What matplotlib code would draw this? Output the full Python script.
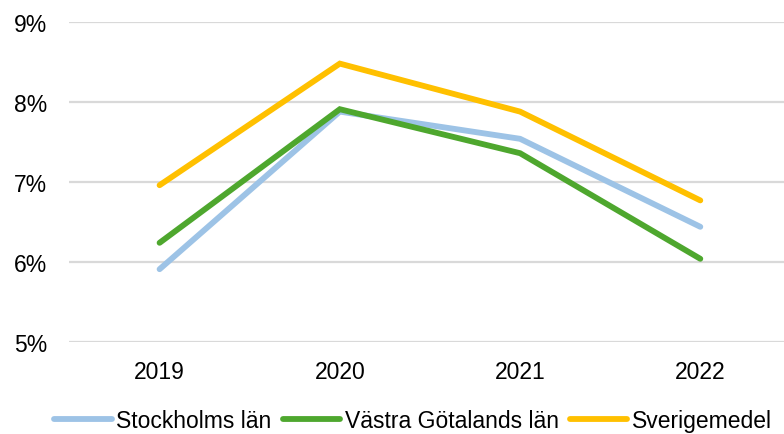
import matplotlib.pyplot as plt
from matplotlib.ticker import FuncFormatter

plt.rcParams['font.family'] = ['Liberation Sans', 'DejaVu Sans']

years = ["2019", "2020", "2021", "2022"]
stockholm = [5.91, 7.88, 7.54, 6.44]
vastra = [6.24, 7.91, 7.36, 6.04]
sverige = [6.96, 8.48, 7.88, 6.77]

series = [
    ("Stockholms län", stockholm, "#9DC3E6"),
    ("Västra Götalands län", vastra, "#4EA72E"),
    ("Sverigemedel", sverige, "#FFC000"),
]

fig = plt.figure(figsize=(7.84, 4.35), dpi=100)
ax = fig.add_axes([0.0886, 0.2115, 0.9196, 0.7356])

x = range(len(years))
for name, vals, col in series:
    ax.plot(x, vals, color=col, lw=4.2, label=name, solid_capstyle="round",
            solid_joinstyle="miter")

ax.set_xlim(-0.5, 3.5)
ax.set_ylim(5, 9)
ax.set_yticks([5, 6, 7, 8, 9])
ax.yaxis.set_major_formatter(FuncFormatter(lambda v, p: f"{v:.0f}%"))
ax.set_xticks(list(x))
ax.set_xticklabels(years)
ax.tick_params(length=0, labelsize=16.5, colors="black")
ax.tick_params(axis="y", pad=16)
ax.tick_params(axis="x", pad=13)
ax.grid(axis="y", color="#D9D9D9", lw=1.6)
ax.set_axisbelow(True)
for s in ax.spines.values():
    s.set_visible(False)

fig.legend(loc="lower center", bbox_to_anchor=(0.527, -0.043), ncol=3, frameon=False,
           fontsize=16.5, handlelength=2.5, handletextpad=0.2, columnspacing=0.5)

fig.savefig("out.png", dpi=100)
